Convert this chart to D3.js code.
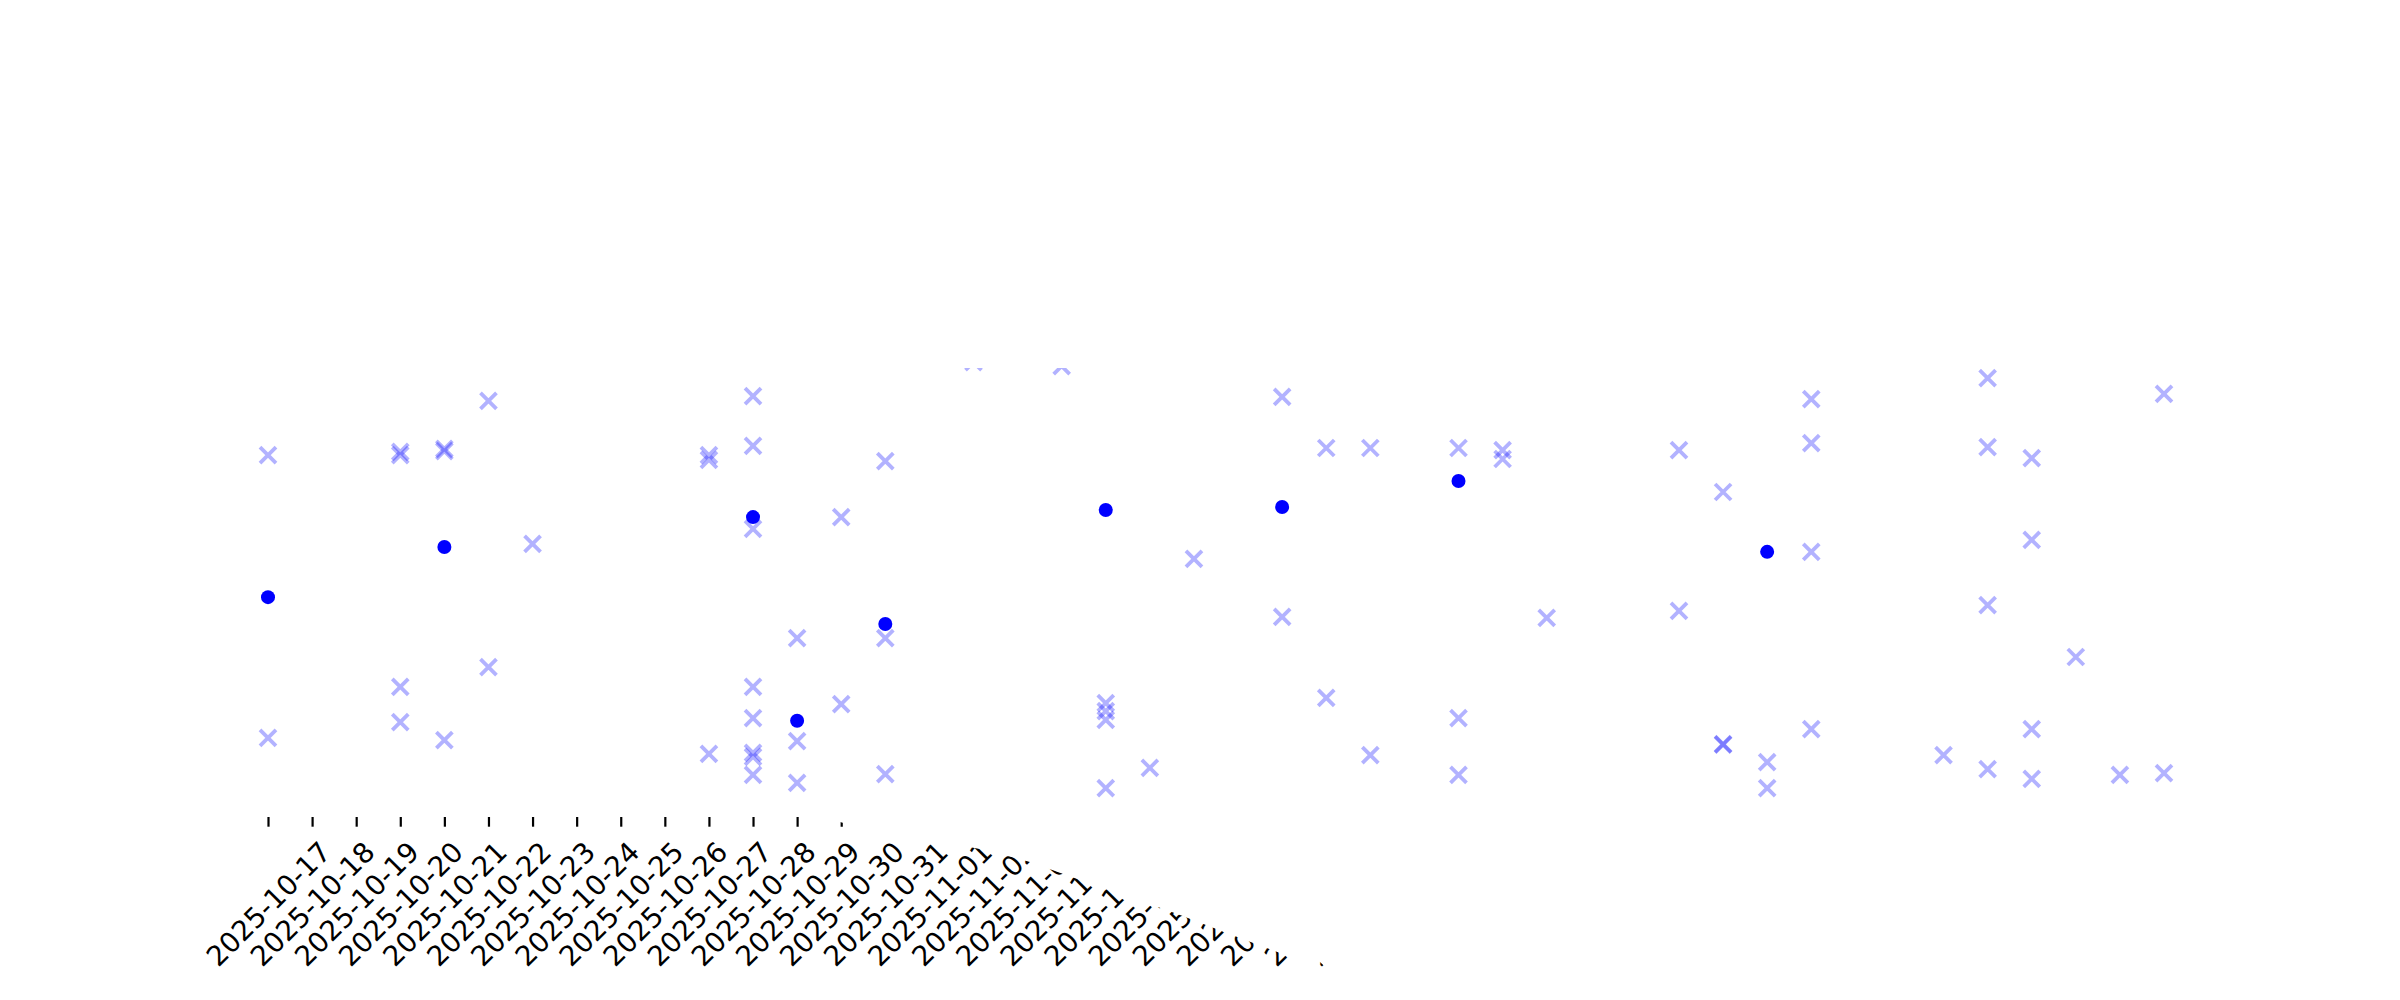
<!DOCTYPE html>
<html>
<head>
<meta charset="utf-8">
<script src="https://cdn.jsdelivr.net/npm/d3@7"></script>
<style>
  body { margin: 0; background: #fff; }
  svg { display: block; }
</style>
</head>
<body>
<svg id="chart" width="2400" height="1000"></svg>
<script>
// tick labels on the x axis (one per day)
var tickDates = ["2025-10-17","2025-10-18","2025-10-19","2025-10-20","2025-10-21","2025-10-22",
  "2025-10-23","2025-10-24","2025-10-25","2025-10-26","2025-10-27","2025-10-28","2025-10-29",
  "2025-10-30","2025-10-31","2025-11-01","2025-11-02","2025-11-03","2025-11-04","2025-11-05",
  "2025-11-06","2025-11-07","2025-11-08","2025-11-09","2025-11-10","2025-11-11","2025-11-12",
  "2025-11-13","2025-11-14","2025-11-15","2025-11-16","2025-11-17","2025-11-18","2025-11-19",
  "2025-11-20","2025-11-21","2025-11-22","2025-11-23","2025-11-24","2025-11-25","2025-11-26",
  "2025-11-27","2025-11-28","2025-11-29"];

// individual observations (faint x markers)
var crossDates = [
  "2025-10-17","2025-10-17",
  "2025-10-20","2025-10-20","2025-10-20","2025-10-20",
  "2025-10-21","2025-10-21","2025-10-21",
  "2025-10-22","2025-10-22",
  "2025-10-23",
  "2025-10-27","2025-10-27","2025-10-27",
  "2025-10-28","2025-10-28","2025-10-28","2025-10-28","2025-10-28","2025-10-28","2025-10-28","2025-10-28",
  "2025-10-29","2025-10-29","2025-10-29",
  "2025-10-30","2025-10-30",
  "2025-10-31","2025-10-31","2025-10-31",
  "2025-11-02",
  "2025-11-04",
  "2025-11-05","2025-11-05","2025-11-05","2025-11-05",
  "2025-11-06",
  "2025-11-07",
  "2025-11-09","2025-11-09",
  "2025-11-10","2025-11-10",
  "2025-11-11","2025-11-11",
  "2025-11-13","2025-11-13","2025-11-13",
  "2025-11-14","2025-11-14",
  "2025-11-15",
  "2025-11-18","2025-11-18",
  "2025-11-19","2025-11-19","2025-11-19",
  "2025-11-20","2025-11-20",
  "2025-11-21","2025-11-21","2025-11-21","2025-11-21",
  "2025-11-24",
  "2025-11-25","2025-11-25","2025-11-25","2025-11-25",
  "2025-11-26","2025-11-26","2025-11-26","2025-11-26",
  "2025-11-27",
  "2025-11-28",
  "2025-11-29","2025-11-29"];
var crossValues = [
  78.4, 14.1,
  79.1, 78.4, 25.7, 17.7,
  79.8, 79.3, 13.6,
  90.7, 30.2,
  58.2,
  78.4, 77.3, 10.5,
  91.8, 80.5, 61.6, 25.7, 18.6, 10.7, 9.8, 5.7,
  36.8, 13.4, 3.9,
  64.3, 21.8,
  77.0, 36.8, 5.9,
  99.5,
  98.6,
  22.0, 20.2, 18.2, 2.7,
  7.3,
  54.8,
  91.6, 41.6,
  80.0, 23.2,
  80.0, 10.2,
  80.0, 18.6, 5.7,
  79.5, 77.5,
  41.4,
  79.5, 43.0,
  70.0, 12.7, 12.6,
  8.6, 2.7,
  91.1, 81.1, 56.4, 16.1,
  10.2,
  95.9, 80.2, 44.3, 7.0,
  77.7, 59.1, 16.1, 4.8,
  32.5,
  5.7,
  92.3, 6.1];

// daily means (solid dots)
var dotDates = ["2025-10-17","2025-10-21","2025-10-28","2025-10-29","2025-10-31",
  "2025-11-05","2025-11-09","2025-11-13","2025-11-20"];
var dotValues = [46.1, 57.5, 64.3, 18.0, 40.0, 65.9, 66.6, 72.5, 56.4];

var parse = d3.utcParse("%Y-%m-%d");
var svg = d3.select("#chart");

// the picture only shows this region
svg.append("defs").append("clipPath")
  .attr("id", "view")
  .append("polygon")
  .attr("points", [[0,368],[2400,368],[2400,800],[830,800],[840,822],[884,834],[943,842],
    [985,850],[1030,862],[1080,880],[1130,897],[1180,915],[1232,935],[1280,953],[1320,962],
    [1360,1000],[0,1000]].map(function(p){ return p.join(","); }).join(" "));

var g = svg.append("g").attr("clip-path", "url(#view)");

var x = d3.scaleUtc()
  .domain([parse(tickDates[0]), parse(tickDates[tickDates.length-1])])
  .range([268, 2164]);
var y = d3.scaleLinear().domain([0, 100]).range([800, 360]);

// x axis, no spine
var axis = g.append("g")
  .attr("transform", "translate(0,817)")
  .call(d3.axisBottom(x)
    .tickValues(tickDates.map(parse))
    .tickFormat(d3.utcFormat("%Y-%m-%d"))
    .tickSize(9.7));
axis.select(".domain").remove();
axis.selectAll(".tick line").attr("stroke", "#000").attr("stroke-width", 2.2);
axis.selectAll(".tick text")
  .attr("font-family", "DejaVu Sans")
  .attr("font-size", "27.8px")
  .attr("fill", "#000")
  .attr("y", null)
  .attr("dy", "0.35em")
  .attr("text-anchor", "middle")
  .attr("transform", "translate(0,87) rotate(-45)");

// x markers
var arm = 8;
g.append("g").selectAll("path")
  .data(crossDates)
  .enter().append("path")
  .attr("d", "M" + (-arm) + "," + (-arm) + "L" + arm + "," + arm + "M" + (-arm) + "," + arm + "L" + arm + "," + (-arm))
  .attr("transform", function(d, i) { return "translate(" + x(parse(d)) + "," + y(crossValues[i]) + ")"; })
  .attr("fill", "none")
  .attr("stroke", "#0000ff")
  .attr("stroke-opacity", 0.3)
  .attr("stroke-width", 3.8);

// mean dots
g.append("g").selectAll("circle")
  .data(dotDates)
  .enter().append("circle")
  .attr("cx", function(d) { return x(parse(d)); })
  .attr("cy", function(d, i) { return y(dotValues[i]); })
  .attr("r", 7)
  .attr("fill", "#0000ff");
</script>
</body>
</html>
